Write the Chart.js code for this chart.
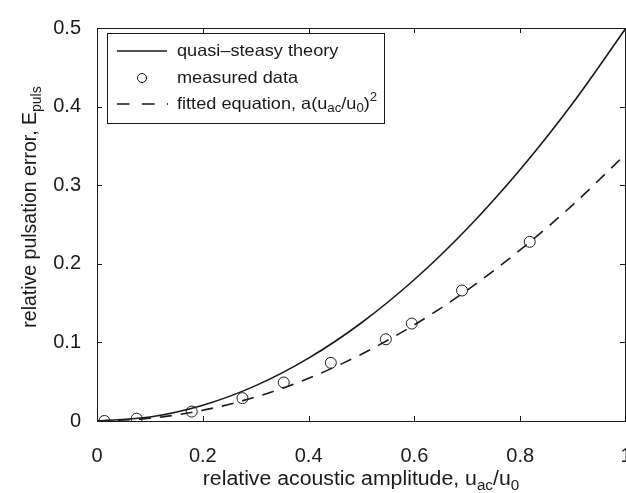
<!DOCTYPE html>
<html>
<head>
<meta charset="utf-8">
<script src="https://cdn.jsdelivr.net/npm/chart.js@4.4.0/dist/chart.umd.min.js"></script>
<style>
  html, body { margin: 0; padding: 0; background: #fff; }
  #wrap { width: 626px; height: 493px; }
</style>
</head>
<body>
<div id="wrap"><canvas id="myChart" width="626" height="493"></canvas></div>
<script>
// values
const curveX = [0, 0.1, 0.2, 0.3, 0.4, 0.5, 0.6, 0.7, 0.8, 0.9, 1.0];
const theoryY = [0, 0.005, 0.02, 0.045, 0.08, 0.125, 0.18, 0.245, 0.32, 0.405, 0.5];
const fittedY = [0, 0.0034, 0.0136, 0.0306, 0.0544, 0.085, 0.1224, 0.1666, 0.2176, 0.2754, 0.34];
const measuredX = [0.014, 0.075, 0.179, 0.275, 0.353, 0.442, 0.546, 0.595, 0.69, 0.818];
const measuredY = [0.0, 0.003, 0.012, 0.029, 0.049, 0.074, 0.104, 0.124, 0.166, 0.228];
const xTicks = [0, 0.2, 0.4, 0.6, 0.8, 1];
const yTicks = [0, 0.1, 0.2, 0.3, 0.4, 0.5];

const FONT = "'Liberation Sans', Arial, sans-serif";
const INK = "#1a1a1a";

const toPts = (xs, ys) => xs.map((x, i) => ({ x: x, y: ys[i] }));
const fmt = (v) => (v === 0 || v === 1 ? String(v) : v.toFixed(1));

// text with sub/superscripts, parts = [[text, mode], ...], hs = horizontal stretch
function richText(ctx, parts, x, y, size, align, hs) {
  hs = hs || 1;
  const small = Math.round(size * 0.72);
  let total = 0;
  parts.forEach(([t, m]) => {
    ctx.font = (m ? small : size) + "px " + FONT;
    total += ctx.measureText(t).width;
  });
  ctx.save();
  ctx.translate(x, y);
  ctx.scale(hs, 1);
  let cx = align === "center" ? -total / 2 : 0;
  ctx.textAlign = "left";
  ctx.textBaseline = "middle";
  parts.forEach(([t, m]) => {
    ctx.font = (m ? small : size) + "px " + FONT;
    let dy = 0;
    if (m === "sub") dy = size * 0.3;
    if (m === "sup") dy = -size * 0.38;
    ctx.fillText(t, cx, dy);
    cx += ctx.measureText(t).width;
  });
  ctx.restore();
}

const framePlugin = {
  id: "frame",
  afterDraw(chart) {
    const ctx = chart.ctx;
    const a = chart.chartArea;
    const xs = chart.scales.x, ys = chart.scales.y;
    ctx.save();
    ctx.strokeStyle = INK;
    ctx.lineWidth = 1;
    ctx.strokeRect(Math.round(a.left) + 0.5, Math.round(a.top) + 0.5, Math.round(a.right - a.left) - 1, Math.round(a.bottom - a.top));
    // inward ticks on all four sides
    const len = 5;
    ctx.beginPath();
    xTicks.forEach((v) => {
      const px = Math.round(xs.getPixelForValue(v)) + 0.5;
      ctx.moveTo(px, a.bottom); ctx.lineTo(px, a.bottom - len);
      ctx.moveTo(px, a.top); ctx.lineTo(px, a.top + len);
    });
    yTicks.forEach((v) => {
      const py = Math.round(ys.getPixelForValue(v)) + 0.5;
      ctx.moveTo(a.left, py); ctx.lineTo(a.left + len, py);
      ctx.moveTo(a.right - 1, py); ctx.lineTo(a.right - 1 - len, py);
    });
    ctx.stroke();

    // axis titles
    ctx.fillStyle = INK;
    richText(ctx, [["relative acoustic amplitude, u", ""], ["ac", "sub"], ["/u", ""], ["0", "sub"]],
      361, 480, 19.5, "center", 1.09);
    ctx.save();
    ctx.translate(31, 207);
    ctx.rotate(-Math.PI / 2);
    richText(ctx, [["relative pulsation error, E", ""], ["puls", "sub"]], 0, 0, 19.5, "center", 1);
    ctx.restore();

    // legend box
    const L = 107, T = 33, W = 277, H = 90;
    ctx.fillStyle = "#fff";
    ctx.fillRect(L, T, W, H);
    ctx.strokeRect(L + 0.5, T + 0.5, W, H);
    const rows = [51, 78, 104];
    ctx.lineWidth = 1.6;
    ctx.beginPath();
    ctx.moveTo(117, rows[0]); ctx.lineTo(167, rows[0]);
    ctx.stroke();
    ctx.lineWidth = 1;
    ctx.beginPath();
    ctx.arc(142, rows[1], 4.5, 0, Math.PI * 2);
    ctx.stroke();
    ctx.lineWidth = 1.6;
    ctx.setLineDash([12.5, 12.5]);
    ctx.beginPath();
    ctx.moveTo(117, rows[2]); ctx.lineTo(168, rows[2]);
    ctx.stroke();
    ctx.setLineDash([]);
    ctx.fillStyle = INK;
    richText(ctx, [["quasi\u2013steasy theory", ""]], 177, rows[0], 16.5, "left", 1.1);
    richText(ctx, [["measured data", ""]], 177, rows[1], 16.5, "left", 1.1);
    richText(ctx, [["fitted equation, a(u", ""], ["ac", "sub"], ["/u", ""], ["0", "sub"], [")", ""], ["2", "sup"]],
      177, rows[2], 16.5, "left", 1.1);
    ctx.restore();
  }
};

const noSidePad = (s) => { s.paddingRight = 0; s.paddingLeft = 0; };

const ctx = document.getElementById("myChart").getContext("2d");
new Chart(ctx, {
  type: "scatter",
  data: {
    datasets: [
      {
        label: "quasi-steasy theory",
        data: toPts(curveX, theoryY),
        showLine: true,
        borderColor: INK,
        borderWidth: 1.6,
        pointRadius: 0,
        cubicInterpolationMode: "monotone",
      },
      {
        label: "fitted equation",
        data: toPts(curveX, fittedY),
        showLine: true,
        borderColor: INK,
        borderWidth: 1.6,
        borderDash: [12, 9],
        pointRadius: 0,
        cubicInterpolationMode: "monotone",
      },
      {
        label: "measured data",
        data: toPts(measuredX, measuredY),
        showLine: false,
        pointStyle: "circle",
        pointRadius: 5.5,
        borderColor: INK,
        borderWidth: 1,
        backgroundColor: "rgba(0,0,0,0)",
      },
    ],
  },
  options: {
    responsive: false,
    animation: false,
    devicePixelRatio: 1,
    layout: { autoPadding: false, padding: { top: 20, right: 0, left: 0, bottom: 0 } },
    plugins: { legend: { display: false }, tooltip: { enabled: false } },
    scales: {
      x: {
        type: "linear",
        min: 0,
        max: 1,
        afterBuildTicks: (s) => { s.ticks = xTicks.map((v) => ({ value: v })); },
        afterFit: (s) => { s.height = 72; noSidePad(s); },
        afterUpdate: noSidePad,
        grid: { display: false, drawTicks: false },
        border: { display: false },
        ticks: {
          callback: (v) => fmt(v),
          font: { family: FONT, size: 20 },
          color: INK,
          padding: 23,
          maxRotation: 0,
          autoSkip: false,
        },
      },
      y: {
        type: "linear",
        min: 0,
        max: 0.5,
        afterBuildTicks: (s) => { s.ticks = yTicks.map((v) => ({ value: v })); },
        afterFit: (s) => { s.width = 97; },
        grid: { display: false, drawTicks: false },
        border: { display: false },
        ticks: {
          callback: (v) => fmt(v),
          font: { family: FONT, size: 20 },
          color: INK,
          padding: 16,
        },
      },
    },
  },
  plugins: [framePlugin],
});
</script>
</body>
</html>
